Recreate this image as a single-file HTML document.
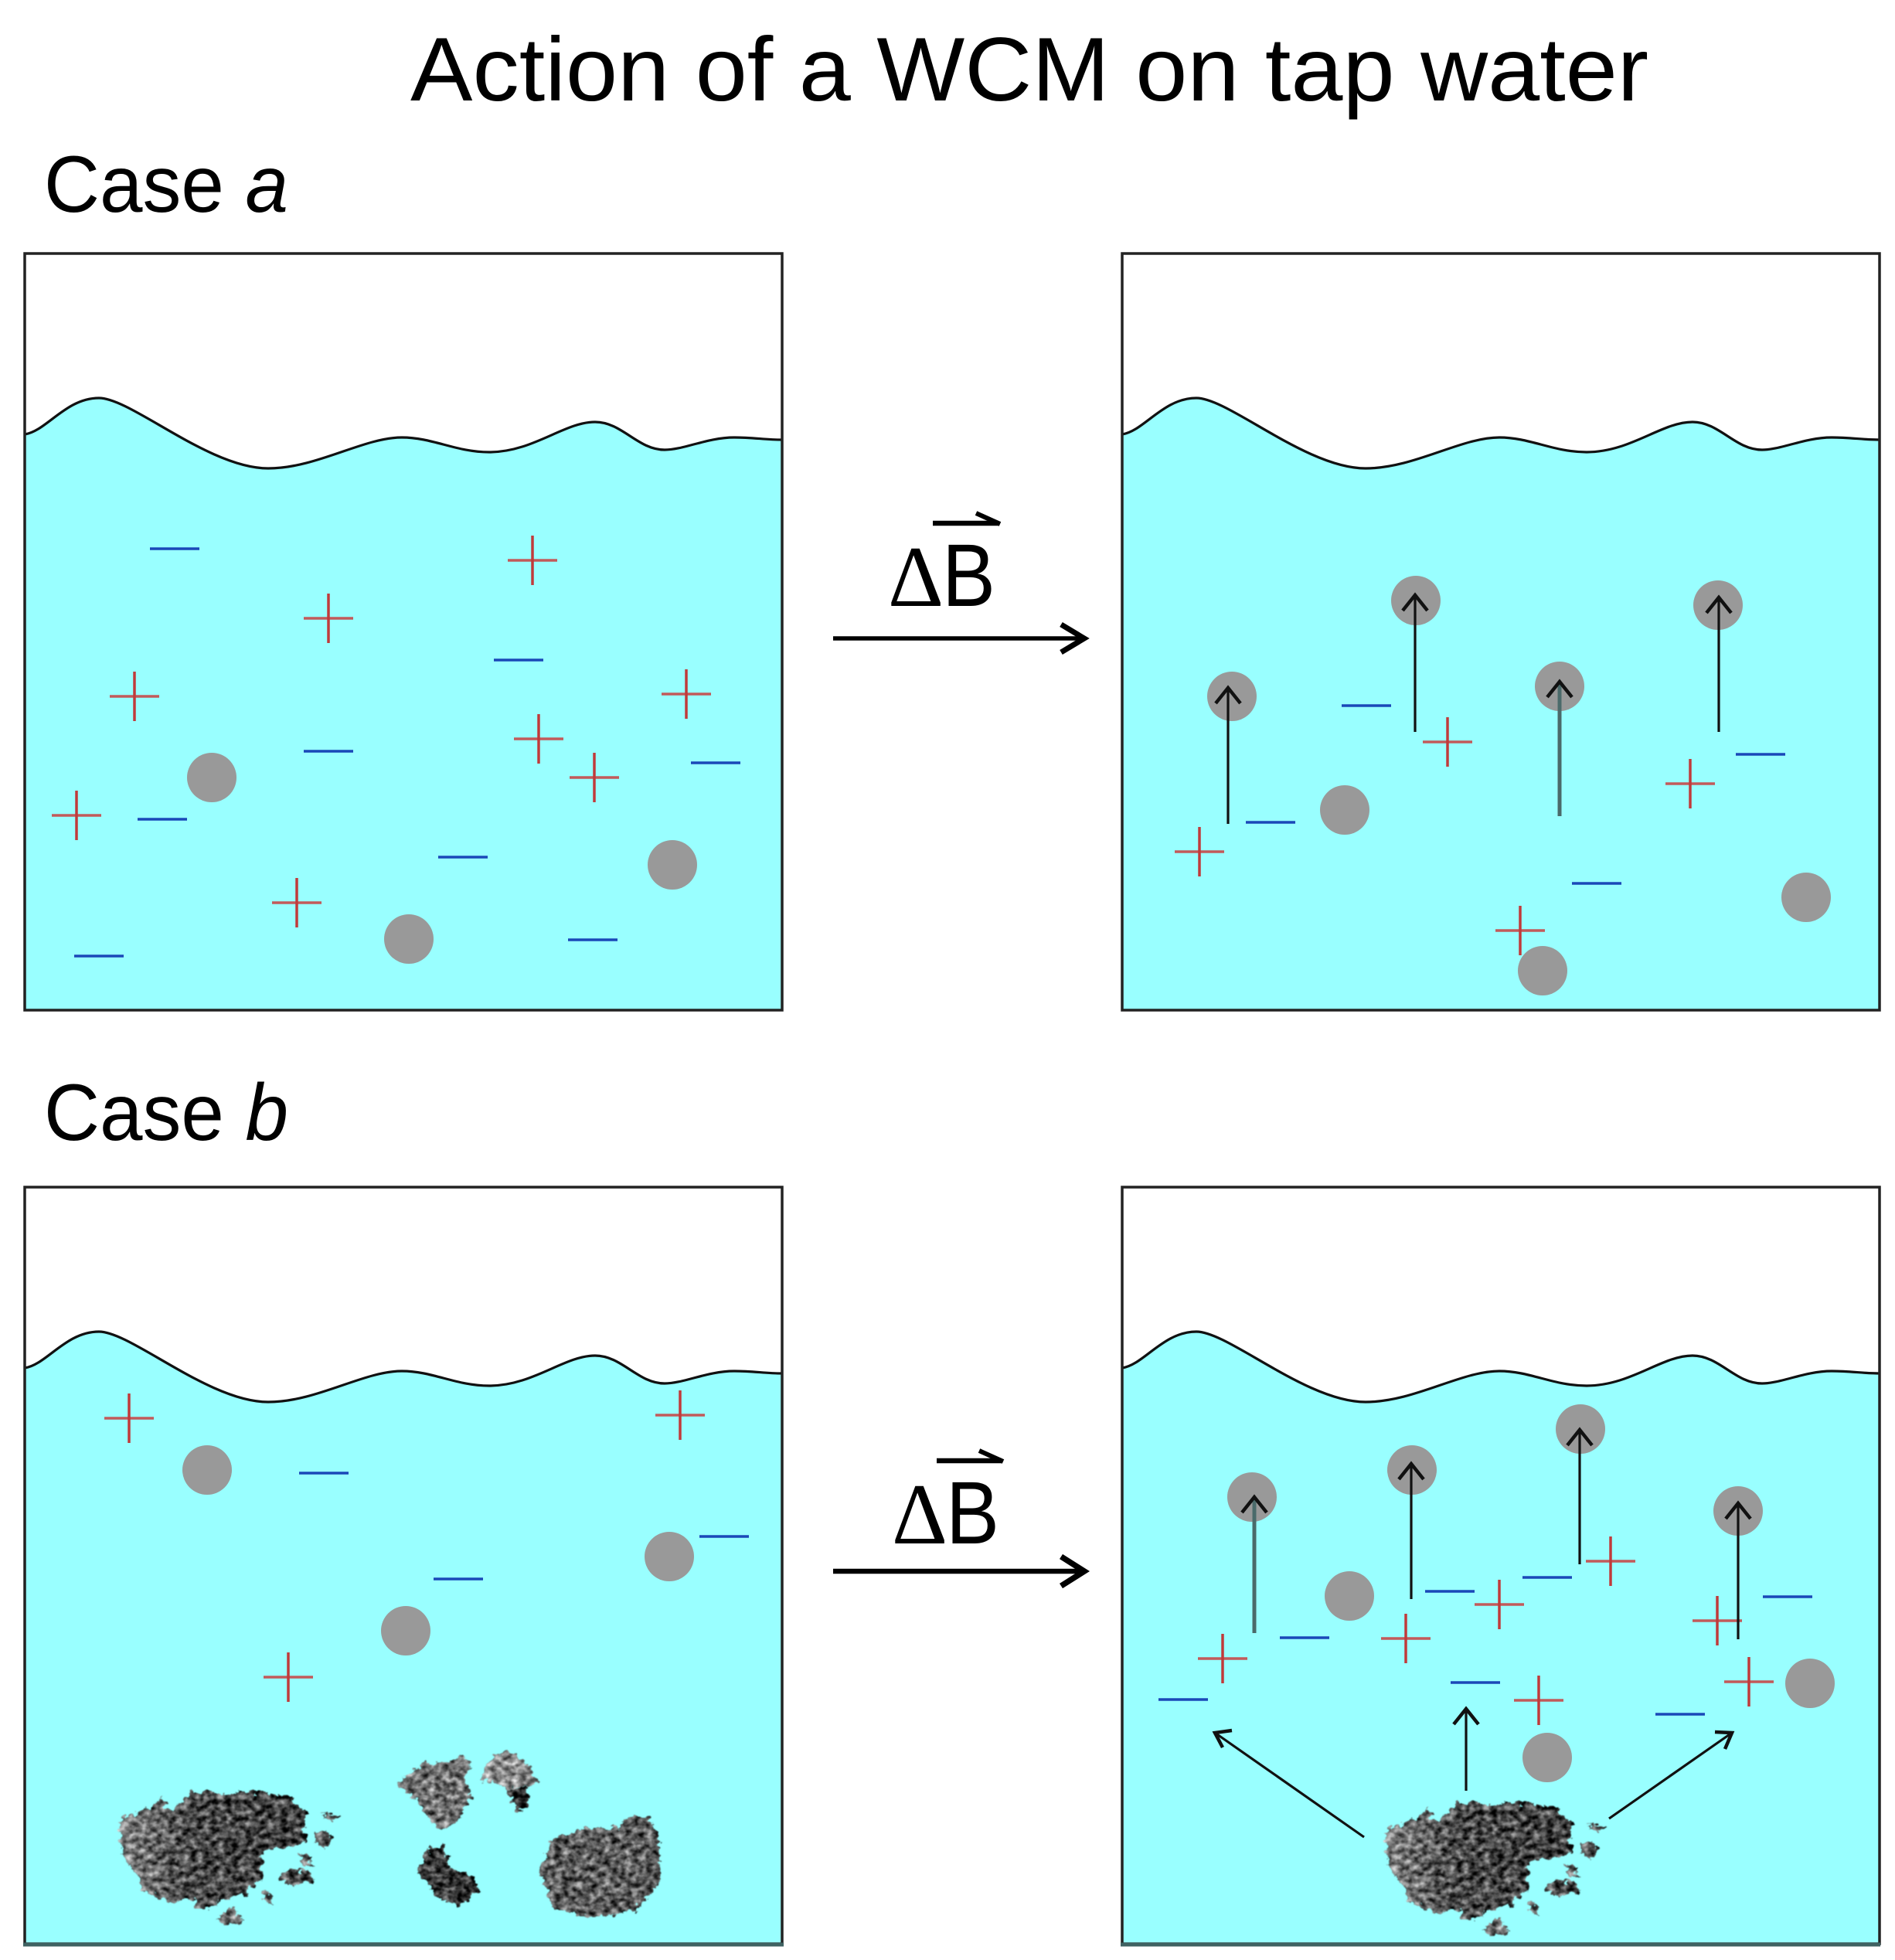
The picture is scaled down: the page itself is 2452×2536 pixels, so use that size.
<!DOCTYPE html>
<html><head><meta charset="utf-8"><style>html,body{margin:0;padding:0;background:#fff}svg{display:block}</style></head>
<body>
<svg xmlns="http://www.w3.org/2000/svg" width="2452" height="2536" viewBox="0 0 2452 2536">
<defs>
<filter id="rock" x="-15%" y="-15%" width="130%" height="130%" color-interpolation-filters="sRGB">
<feTurbulence type="fractalNoise" baseFrequency=".11 .14" numOctaves="3" seed="4" result="n"/>
<feDisplacementMap in="SourceGraphic" in2="n" scale="16" xChannelSelector="R" yChannelSelector="G" result="d"/>
<feColorMatrix in="n" type="matrix" values="1.5 0 0 0 -.25 1.5 0 0 0 -.25 1.5 0 0 0 -.25 0 0 0 0 1" result="t"/>
<feComposite in="d" in2="t" operator="arithmetic" k1="0" k2="1" k3=".8" k4="-.4" result="b"/>
<feComposite in="b" in2="d" operator="in" result="c"/>
<feGaussianBlur in="c" stdDeviation=".7"/>
</filter>
<linearGradient id="rg" x1="0" x2="1" y1="0" y2="0"><stop offset="0" stop-color="#808080"/><stop offset=".4" stop-color="#484848"/><stop offset="1" stop-color="#404040"/></linearGradient>
<g id="panel">
<rect x="32" y="328" width="980" height="979" fill="#fff"/>
<path d="M32 562C60 558 85 515 128 515C170 515 270 606 347 606C410 606 470 566 520 566C560 566 590 585 633 585C690 585 730 546 770 546C805 546 825 582 860 582C885 582 915 566 950 566C975 566 990 569 1012 569L1012 1307L32 1307Z" fill="#9ff"/>
<path d="M32 562C60 558 85 515 128 515C170 515 270 606 347 606C410 606 470 566 520 566C560 566 590 585 633 585C690 585 730 546 770 546C805 546 825 582 860 582C885 582 915 566 950 566C975 566 990 569 1012 569" fill="none" stroke="#111" stroke-width="3.2"/>
<rect x="32" y="328" width="980" height="979" fill="none" stroke="#222" stroke-width="3.5"/>
</g>
<g id="p" fill="none"><path d="M-32 0H32" stroke="#c25a5a" stroke-width="3.5"/><path d="M0 -32V32" stroke="#c03a3a" stroke-width="3.5"/></g>
<path id="m" d="M-32 0H32" stroke="#1a48b8" stroke-width="3.6" fill="none"/>
<circle id="c" r="32" fill="#999"/>
<path id="h" d="M-16 20L0 0L16 20" fill="none" stroke="#111" stroke-width="4.5"/>
<g id="clump1" filter="url(#rock)">
<g transform="translate(100 2200) scale(.51 .338)">
<path fill="url(#rg)" d="M110 450L170 420L215 375L240 430L290 350L380 360L450 350L540 370L580 430L575 500L580 540L470 580L470 680L430 740L380 760L330 800L300 790L300 760L230 770L170 730L150 670L110 580Z"/>
<path fill="#4a4a4a" d="M505 680L540 645L590 655L600 690L550 710Z"/>
<path fill="#4a4a4a" d="M600 510L630 490L645 540L630 570L605 545Z"/>
<path fill="#5a5a5a" d="M615 435L665 445L650 460Z"/>
<path fill="#777" d="M350 830L400 790L420 850L370 855Z"/>
<path fill="#666" d="M470 730L490 730L495 780L475 770Z"/>
<path fill="#666" d="M560 590L585 590L600 640L575 630Z"/>
</g></g>
</defs>

<text x="531" y="130" font-family="Liberation Sans, sans-serif" font-size="117" fill="#000" textLength="1602" lengthAdjust="spacingAndGlyphs">Action of a WCM on tap water</text>
<text x="57" y="274" font-family="Liberation Sans, sans-serif" font-size="104" fill="#000" textLength="316" lengthAdjust="spacingAndGlyphs">Case <tspan font-style="italic">a</tspan></text>
<text x="57" y="1475" font-family="Liberation Sans, sans-serif" font-size="104" fill="#000" textLength="316" lengthAdjust="spacingAndGlyphs">Case <tspan font-style="italic">b</tspan></text>

<use href="#panel"/>
<use href="#panel" x="1420"/>
<use href="#panel" y="1208"/>
<use href="#panel" x="1420" y="1208"/>
<path d="M30 2516H1014M1450 2516H2433" stroke="#3f6262" stroke-width="5"/>

<!-- Case a left -->
<use href="#c" x="274" y="1006"/><use href="#c" x="870" y="1119"/><use href="#c" x="529" y="1215"/>
<use href="#m" x="226" y="710"/><use href="#m" x="671" y="854"/><use href="#m" x="425" y="972"/><use href="#m" x="926" y="987"/><use href="#m" x="210" y="1060"/><use href="#m" x="599" y="1109"/><use href="#m" x="767" y="1216"/><use href="#m" x="128" y="1237"/>
<use href="#p" x="689" y="725"/><use href="#p" x="425" y="800"/><use href="#p" x="174" y="901"/><use href="#p" x="888" y="898"/><use href="#p" x="697" y="956"/><use href="#p" x="769" y="1006"/><use href="#p" x="99" y="1055"/><use href="#p" x="384" y="1168"/>

<!-- Case a right -->
<use href="#c" x="1594" y="901"/><use href="#c" x="1832" y="777"/><use href="#c" x="2018" y="888"/><use href="#c" x="2223" y="783"/><use href="#c" x="1740" y="1048"/><use href="#c" x="2337" y="1161"/><use href="#c" x="1996" y="1256"/>
<use href="#m" x="1768" y="913"/><use href="#m" x="1644" y="1064"/><use href="#m" x="2278" y="976"/><use href="#m" x="2066" y="1143"/>
<use href="#p" x="1873" y="960"/><use href="#p" x="1552" y="1102"/><use href="#p" x="2187" y="1014"/><use href="#p" x="1967" y="1204"/>
<path d="M1589 1066V890M1831 947V770M2224 947V773" stroke="#111" stroke-width="3.2" fill="none"/>
<path d="M2018 1056V882" stroke="#4a6a6a" stroke-width="5" fill="none"/>
<use href="#h" x="1589" y="890"/><use href="#h" x="1831" y="770"/><use href="#h" x="2018" y="882"/><use href="#h" x="2224" y="773"/>

<!-- Middle arrows -->
<path d="M1078 826H1402" fill="none" stroke="#000" stroke-width="5.5"/>
<path d="M1373 808L1403 826L1373 844" fill="none" stroke="#000" stroke-width="7"/>
<path d="M1078 2033H1402" fill="none" stroke="#000" stroke-width="6.5"/>
<path d="M1373 2014L1403 2033L1373 2052" fill="none" stroke="#000" stroke-width="7.5"/>

<text x="1149" y="784" font-family="Liberation Serif, serif" font-size="112" fill="#000">Δ</text>
<text x="1219" y="784" font-family="Liberation Sans, sans-serif" font-size="115" fill="#000" textLength="69" lengthAdjust="spacingAndGlyphs">B</text>
<path d="M1207 677H1292" fill="none" stroke="#000" stroke-width="6.5"/>
<path d="M1263 664L1294 678" fill="none" stroke="#000" stroke-width="6"/>

<text x="1154" y="1997" font-family="Liberation Serif, serif" font-size="112" fill="#000">Δ</text>
<text x="1224" y="1997" font-family="Liberation Sans, sans-serif" font-size="115" fill="#000" textLength="69" lengthAdjust="spacingAndGlyphs">B</text>
<path d="M1212 1890H1296" fill="none" stroke="#000" stroke-width="6.5"/>
<path d="M1267 1877L1298 1891" fill="none" stroke="#000" stroke-width="6"/>

<!-- Case b left -->
<use href="#c" x="268" y="1902"/><use href="#c" x="866" y="2014"/><use href="#c" x="525" y="2110"/>
<use href="#m" x="419" y="1906"/><use href="#m" x="937" y="1988"/><use href="#m" x="593" y="2043"/>
<use href="#p" x="167" y="1835"/><use href="#p" x="880" y="1831"/><use href="#p" x="373" y="2170"/>
<use href="#clump1"/>
<g filter="url(#rock)"><g transform="translate(100 2200) scale(.51 .338)">
<path fill="#707070" d="M810 320L880 240L940 240L975 205L1000 240L985 300L1000 370L960 470L920 495L880 430L850 370Z"/>
</g></g>
<g filter="url(#rock)"><g transform="translate(100 2200) scale(.51 .338)">
<path fill="#8a8a8a" d="M1020 310L1050 220L1090 190L1140 240L1170 320L1090 340L1070 320Z"/>
<path fill="#2c2c2c" d="M1090 340L1140 330L1150 410L1120 425Z"/>
</g></g>
<g filter="url(#rock)"><g transform="translate(100 2200) scale(.51 .338)">
<path fill="#383838" d="M860 660L890 570L930 550L945 640L1000 670L1020 730L970 785L910 760L890 700Z"/>
</g></g>
<g filter="url(#rock)"><g transform="translate(100 2200) scale(.51 .338)">
<path fill="#5c5c5c" d="M1170 650L1210 530L1290 490L1370 490L1390 450L1450 450L1475 530L1480 690L1420 800L1310 835L1210 800Z"/>
</g></g>

<!-- Case b right -->
<use href="#c" x="1620" y="1937"/><use href="#c" x="1827" y="1902"/><use href="#c" x="2045" y="1849"/><use href="#c" x="2249" y="1955"/><use href="#c" x="1746" y="2065"/><use href="#c" x="2342" y="2178"/><use href="#c" x="2002" y="2274"/>
<use href="#m" x="1688" y="2119"/><use href="#m" x="1876" y="2059"/><use href="#m" x="2002" y="2041"/><use href="#m" x="2313" y="2066"/><use href="#m" x="1531" y="2199"/><use href="#m" x="1909" y="2177"/><use href="#m" x="2174" y="2218"/>
<use href="#p" x="2084" y="2020"/><use href="#p" x="1940" y="2076"/><use href="#p" x="1819" y="2120"/><use href="#p" x="2222" y="2097"/><use href="#p" x="1582" y="2146"/><use href="#p" x="2263" y="2176"/><use href="#p" x="1991" y="2200"/>
<path d="M1623 2113V1937" stroke="#4a6a6a" stroke-width="5" fill="none"/>
<path d="M1826 2069V1894M2044 2024V1850M2249 2121V1945M1897 2317V2211M1765 2377L1572 2242M2082 2353L2241 2242" stroke="#111" stroke-width="3.2" fill="none"/>
<use href="#h" x="1623" y="1937"/><use href="#h" x="1826" y="1894"/><use href="#h" x="2044" y="1850"/><use href="#h" x="2249" y="1945"/><use href="#h" x="1897" y="2211"/>
<path d="M1594 2239L1572 2242L1582 2261" fill="none" stroke="#111" stroke-width="4.5"/>
<path d="M2219 2241L2241 2242L2232 2263" fill="none" stroke="#111" stroke-width="4.5"/>
<use href="#clump1" x="1638" y="14"/>
</svg>
</body></html>
